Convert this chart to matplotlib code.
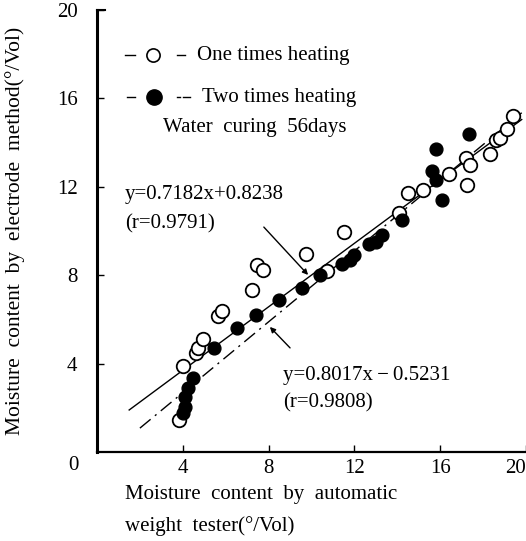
import numpy as np
import matplotlib
matplotlib.use("Agg")
import matplotlib.pyplot as plt

plt.rcParams['font.family'] = ['Liberation Serif', 'DejaVu Serif']

# one times heating (open circles)
one_x = [3.80, 3.99, 4.63, 4.72, 4.95, 5.65, 5.83, 7.21, 7.44, 7.72, 9.74, 10.7,
         11.5, 14.1, 14.5, 15.2, 16.4, 17.25, 17.2, 17.4, 18.3, 18.6, 18.8, 19.1, 19.4]
one_y = [1.43, 3.90, 4.48, 4.71, 5.11, 6.14, 6.37, 7.35, 8.48, 8.25, 8.97, 8.2,
         9.96, 10.8, 11.7, 11.84, 12.6, 12.1, 13.3, 13.0, 13.5, 14.1, 14.2, 14.6, 15.2]

# two times heating (filled circles)
two_x = [4.03, 4.12, 4.12, 4.22, 4.49, 5.46, 6.52, 7.40, 8.50, 9.56, 10.4, 11.4,
         11.8, 12.0, 12.7, 13.0, 13.3, 14.2, 15.6, 15.8, 15.8, 16.1, 17.35]
two_y = [1.75, 2.02, 2.47, 2.91, 3.36, 4.71, 5.61, 6.19, 6.86, 7.40, 8.0, 8.5,
         8.7, 8.9, 9.4, 9.5, 9.8, 10.5, 12.7, 12.3, 13.7, 11.4, 14.4]

# regression lines (slope, intercept, x start)
fit_one = (0.7182, 0.8238, 1.5)
fit_two = (0.8017, -0.5231, 2.0)

ticks = [4, 8, 12, 16, 20]

fig = plt.figure(figsize=(5.26, 5.41), dpi=100)
ax = fig.add_axes([97/526, 89/541, 429/526, 442/541])

for (a, b, x0), ls in [(fit_one, '-'), (fit_two, (0, (10, 4, 1.5, 4)))]:
    xx = np.array([x0, 19.8])
    ax.plot(xx, a*xx + b, color='k', lw=1.0, ls=ls, zorder=2)

ax.scatter(one_x, one_y, s=95, facecolors='white', edgecolors='k', linewidths=1.3, zorder=3)
ax.scatter(two_x, two_y, s=85, color='k', zorder=4)

ax.set_xlim(0, 20)
ax.set_ylim(0, 20)
ax.set_xticks(ticks)
ax.set_yticks(ticks)
ax.tick_params(direction='in', length=5, width=1, labelsize=15)
ax.tick_params(axis='y', pad=14)
ax.tick_params(axis='x', pad=5)
ax.get_xticklabels()[-1].set_ha('right')
for s in ['top', 'right']:
    ax.spines[s].set_visible(False)
ax.spines['left'].set_linewidth(2.2)
ax.spines['bottom'].set_linewidth(1.6)
# little hook at the top of the y axis
ax.plot([0, 0.35], [20, 20], color='k', lw=1.5, clip_on=False)

ax.annotate('0', xy=(0, 0), xytext=(-17, -9.5), textcoords='offset points',
            fontsize=15, ha='center', va='center', annotation_clip=False)

# legend drawn by hand
fs = 15
r1, r2 = 17.96, 16.06
ax.plot([1.31, 1.77], [r1, r1], color='k', lw=1, clip_on=False)
ax.plot([2.61], [r1], marker='o', ms=9.5, mfc='white', mec='k', mew=1.2, clip_on=False)
ax.plot([3.73, 4.10], [r1, r1], color='k', lw=1, clip_on=False)
ax.text(4.66, r1, 'One times heating', fontsize=fs, va='center')
ax.plot([1.40, 1.77], [r2, r2], color='k', lw=1, clip_on=False)
ax.plot([2.65], [r2], marker='o', ms=11, color='k', clip_on=False)
ax.plot([3.73, 3.87], [r2, r2], color='k', lw=1, clip_on=False)
ax.plot([4.0, 4.34], [r2, r2], color='k', lw=1, clip_on=False)
ax.text(4.9, r2, 'Two times heating', fontsize=fs, va='center')
ax.text(3.08, 14.7, 'Water  curing  56days', fontsize=fs, va='center')

# equations
ax.text(1.3, 11.63, 'y=0.7182x+0.8238', fontsize=fs, va='center')
ax.text(1.3, 10.32, '(r=0.9791)', fontsize=fs, va='center')
ax.annotate('', xy=(9.93, 7.92), xytext=(7.69, 10.27),
            arrowprops=dict(arrowstyle='-|>', color='k', lw=1, mutation_scale=8))
ax.text(8.67, 3.48, 'y=0.8017x\u2009\u2212\u20090.5231', fontsize=fs, va='center')
ax.text(8.67, 2.22, '(r=0.9808)', fontsize=fs, va='center')
ax.annotate('', xy=(7.97, 5.75), xytext=(9.09, 4.62),
            arrowprops=dict(arrowstyle='-|>', color='k', lw=1, mutation_scale=8))

fig.text(15/526, 1 - 231/541, 'Moisture  content  by  electrode  method(\u00b0/Vol)',
         rotation=90, ha='center', va='center', fontsize=15.5)
fig.text(125/526, 1 - 494/541, 'Moisture  content  by  automatic',
         ha='left', va='center', fontsize=fs)
fig.text(125/526, 1 - 526/541, 'weight  tester(\u00b0/Vol)',
         ha='left', va='center', fontsize=fs)

fig.savefig('out.png', dpi=100)
